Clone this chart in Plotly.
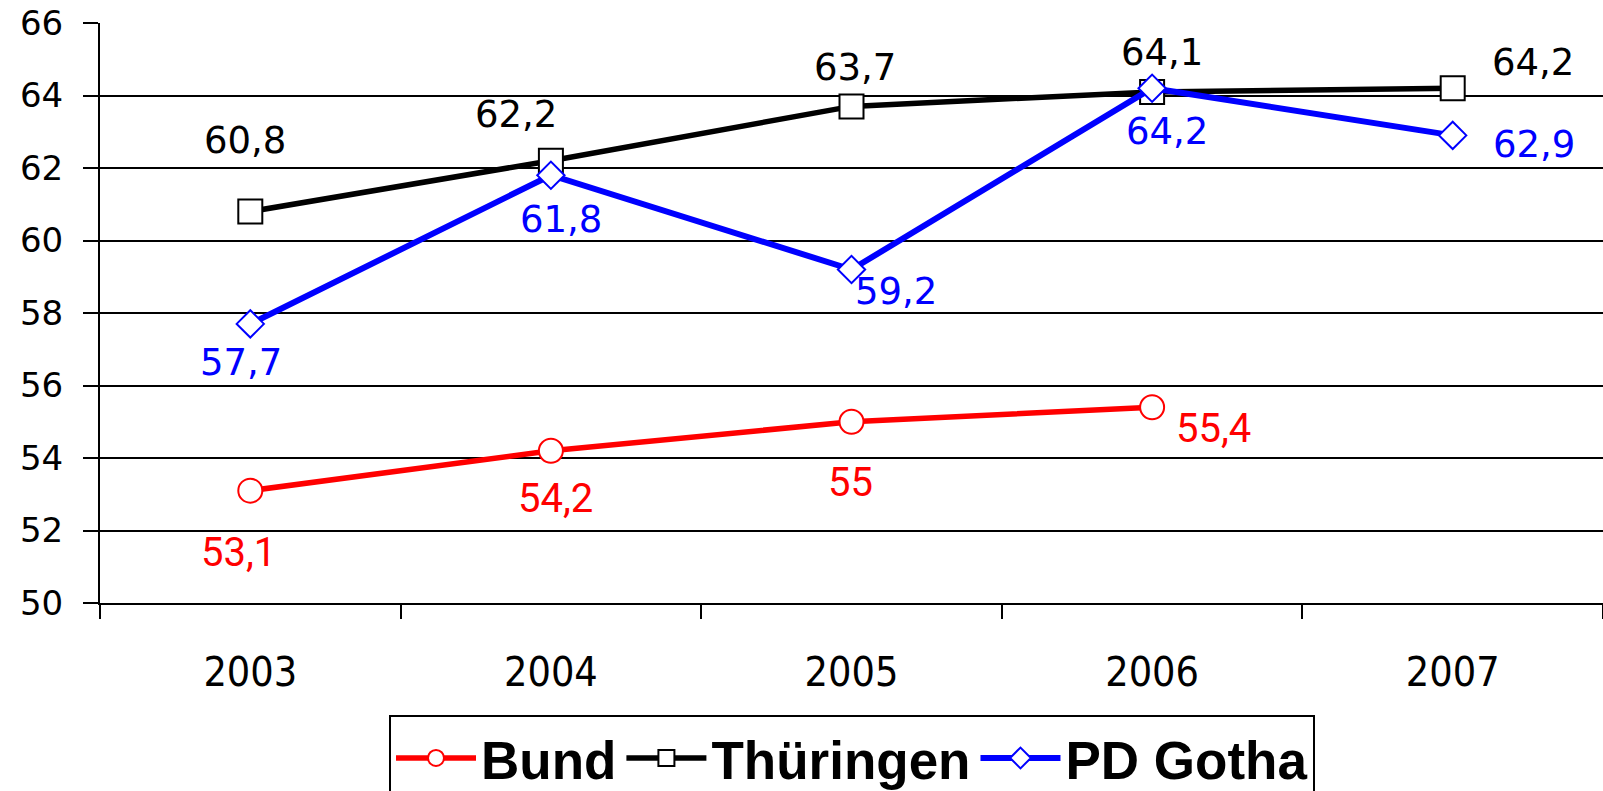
import plotly.graph_objects as go

years = ["2003", "2004", "2005", "2006", "2007"]
bund = [53.1, 54.2, 55.0, 55.4, None]
thueringen = [60.8, 62.2, 63.7, 64.1, 64.2]
gotha = [57.7, 61.8, 59.2, 64.2, 62.9]

bund_labels = ["53,1", "54,2", "55", "55,4", None]
thueringen_labels = ["60,8", "62,2", "63,7", "64,1", "64,2"]
gotha_labels = ["57,7", "61,8", "59,2", "64,2", "62,9"]

y_ticks = [50, 52, 54, 56, 58, 60, 62, 64, 66]

# label offsets in pixels (dx, dy up)
bund_off = [(-12, -62), (5, -48), (-1, -61), (61, -21), None]
thueringen_off = [(-5, 71), (-35, 46), (3, 39), (10, 39), (80, 26)]
gotha_off = [(-9, -39), (10, -44), (44, -22), (15, -43), (81, -9)]

fig = go.Figure()
fig.add_trace(go.Scatter(
    x=years, y=bund, name="Bund", mode="lines+markers",
    line=dict(color="#ff0000", width=5.5),
    marker=dict(symbol="circle", size=24, color="white",
                line=dict(color="#ff0000", width=2)),
))
fig.add_trace(go.Scatter(
    x=years, y=thueringen, name="Thüringen", mode="lines+markers",
    line=dict(color="#000000", width=5.5),
    marker=dict(symbol="square", size=24, color="white",
                line=dict(color="#000000", width=2)),
))
fig.add_trace(go.Scatter(
    x=years, y=gotha, name="PD Gotha", mode="lines+markers",
    line=dict(color="#0000ff", width=6),
    marker=dict(symbol="diamond", size=21, color="white",
                line=dict(color="#0000ff", width=2)),
))

def add_labels(vals, labels, offs, color, family, size):
    for i, (v, t, o) in enumerate(zip(vals, labels, offs)):
        if v is None or t is None:
            continue
        fig.add_annotation(
            x=i, y=v, xref="x", yref="y", text=t, showarrow=False,
            xshift=o[0], yshift=o[1],
            font=dict(color=color, family=family, size=size),
        )

add_labels(bund, bund_labels, bund_off, "#ff0000", "Roboto, Liberation Sans, sans-serif", 40)
add_labels(thueringen, thueringen_labels, thueringen_off, "#000000", "DejaVu Sans, sans-serif", 37)
add_labels(gotha, gotha_labels, gotha_off, "#0000ff", "DejaVu Sans, sans-serif", 37)

fig.update_layout(
    width=1603, height=791,
    margin=dict(l=100, r=0, t=23, b=188, pad=0),
    paper_bgcolor="white", plot_bgcolor="white",
    showlegend=True,
    legend=dict(
        orientation="h", xref="container", yref="container",
        x=852 / 1603, xanchor="center", y=1 - 715 / 791, yanchor="top",
        bordercolor="black", borderwidth=2, bgcolor="white",
        font=dict(family="Liberation Sans, Arial, sans-serif", size=53, color="black", weight="bold"),
        itemwidth=80, tracegroupgap=0,
    ),
    xaxis=dict(
        type="category", range=[-0.5, 4.5],
        showline=True, linecolor="black", linewidth=2,
        ticks="outside", tickson="boundaries", ticklen=14, tickwidth=2, tickcolor="black",
        showgrid=False,
        tickfont=dict(family="DejaVu Sans Condensed, Liberation Sans, sans-serif", size=41, color="black"),
        ticklabelstandoff=32,
    ),
    yaxis=dict(
        range=[50, 66], tickvals=y_ticks, ticktext=[str(v) for v in y_ticks],
        showline=True, linecolor="black", linewidth=2,
        showgrid=True, gridcolor="black", gridwidth=2,
        ticks="outside", ticklen=15, tickwidth=2, tickcolor="black",
        tickfont=dict(family="DejaVu Sans, sans-serif", size=34, color="black"),
        ticklabelstandoff=13, zeroline=False,
    ),
)

fig.write_html(
    "out.html",
    config={"displayModeBar": False},
    post_script="document.body.style.margin='0';document.body.style.overflow='hidden';",
)
